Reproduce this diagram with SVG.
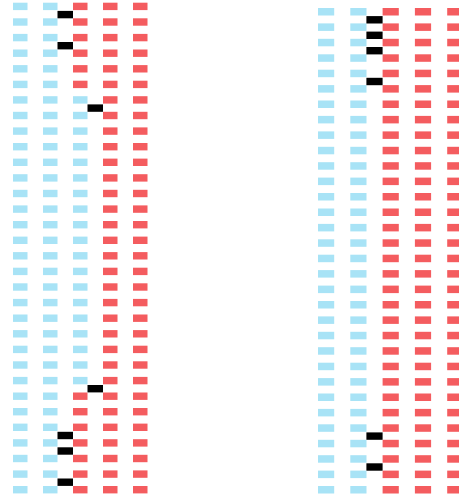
<svg xmlns="http://www.w3.org/2000/svg" xmlns:xlink="http://www.w3.org/1999/xlink" width="459" height="497" viewBox="0 0 459 497">
<style>
.b{fill:#a8e3f6}
.r{fill:#f45c5f}
.k{fill:#000}
</style>
<defs>
<g id="colL">
<rect y="2.7" width="14.5" height="7.4"/><rect y="18.3" width="14.5" height="7.4"/><rect y="33.9" width="14.5" height="7.4"/><rect y="49.5" width="14.5" height="7.4"/>
<rect y="65.1" width="14.5" height="7.4"/><rect y="80.7" width="14.5" height="7.4"/><rect y="96.2" width="14.5" height="7.4"/><rect y="111.8" width="14.5" height="7.4"/>
<rect y="127.4" width="14.5" height="7.4"/><rect y="143" width="14.5" height="7.4"/><rect y="158.6" width="14.5" height="7.4"/><rect y="174.2" width="14.5" height="7.4"/>
<rect y="189.8" width="14.5" height="7.4"/><rect y="205.4" width="14.5" height="7.4"/><rect y="221" width="14.5" height="7.4"/><rect y="236.6" width="14.5" height="7.4"/>
<rect y="252.1" width="14.5" height="7.4"/><rect y="267.7" width="14.5" height="7.4"/><rect y="283.3" width="14.5" height="7.4"/><rect y="298.9" width="14.5" height="7.4"/>
<rect y="314.5" width="14.5" height="7.4"/><rect y="330.1" width="14.5" height="7.4"/><rect y="345.7" width="14.5" height="7.4"/><rect y="361.3" width="14.5" height="7.4"/>
<rect y="376.9" width="14.5" height="7.4"/><rect y="392.5" width="14.5" height="7.4"/><rect y="408" width="14.5" height="7.4"/><rect y="423.6" width="14.5" height="7.4"/>
<rect y="439.2" width="14.5" height="7.4"/><rect y="454.8" width="14.5" height="7.4"/><rect y="470.4" width="14.5" height="7.4"/><rect y="486" width="14.5" height="7.4"/>
</g>
<g id="colR">
<rect y="8" width="16.2" height="7.5"/><rect y="23.4" width="16.2" height="7.5"/><rect y="38.8" width="16.2" height="7.5"/><rect y="54.3" width="16.2" height="7.5"/>
<rect y="69.7" width="16.2" height="7.5"/><rect y="85.1" width="16.2" height="7.5"/><rect y="100.5" width="16.2" height="7.5"/><rect y="115.9" width="16.2" height="7.5"/>
<rect y="131.4" width="16.2" height="7.5"/><rect y="146.8" width="16.2" height="7.5"/><rect y="162.2" width="16.2" height="7.5"/><rect y="177.6" width="16.2" height="7.5"/>
<rect y="193" width="16.2" height="7.5"/><rect y="208.5" width="16.2" height="7.5"/><rect y="223.9" width="16.2" height="7.5"/><rect y="239.3" width="16.2" height="7.5"/>
<rect y="254.7" width="16.2" height="7.5"/><rect y="270.1" width="16.2" height="7.5"/><rect y="285.6" width="16.2" height="7.5"/><rect y="301" width="16.2" height="7.5"/>
<rect y="316.4" width="16.2" height="7.5"/><rect y="331.8" width="16.2" height="7.5"/><rect y="347.2" width="16.2" height="7.5"/><rect y="362.7" width="16.2" height="7.5"/>
<rect y="378.1" width="16.2" height="7.5"/><rect y="393.5" width="16.2" height="7.5"/><rect y="408.9" width="16.2" height="7.5"/><rect y="424.3" width="16.2" height="7.5"/>
<rect y="439.8" width="16.2" height="7.5"/><rect y="455.2" width="16.2" height="7.5"/><rect y="470.6" width="16.2" height="7.5"/><rect y="486" width="16.2" height="7.5"/>
</g>
</defs>
<rect width="459" height="497" fill="#fff"/>
<g id="left-panel">
<use xlink:href="#colL" x="13" class="b"/>
<use xlink:href="#colL" x="43" class="b"/>
<g id="left-col3">
<rect class="r" x="73" y="2.7" width="14.5" height="7.4"/><rect class="r" x="73" y="18.3" width="14.5" height="7.4"/><rect class="r" x="73" y="33.9" width="14.5" height="7.4"/><rect class="r" x="73" y="49.5" width="14.5" height="7.4"/>
<rect class="r" x="73" y="65.1" width="14.5" height="7.4"/><rect class="r" x="73" y="80.7" width="14.5" height="7.4"/><rect class="b" x="73" y="96.2" width="14.5" height="7.4"/><rect class="b" x="73" y="111.8" width="14.5" height="7.4"/>
<rect class="b" x="73" y="127.4" width="14.5" height="7.4"/><rect class="b" x="73" y="143" width="14.5" height="7.4"/><rect class="b" x="73" y="158.6" width="14.5" height="7.4"/><rect class="b" x="73" y="174.2" width="14.5" height="7.4"/>
<rect class="b" x="73" y="189.8" width="14.5" height="7.4"/><rect class="b" x="73" y="205.4" width="14.5" height="7.4"/><rect class="b" x="73" y="221" width="14.5" height="7.4"/><rect class="b" x="73" y="236.6" width="14.5" height="7.4"/>
<rect class="b" x="73" y="252.1" width="14.5" height="7.4"/><rect class="b" x="73" y="267.7" width="14.5" height="7.4"/><rect class="b" x="73" y="283.3" width="14.5" height="7.4"/><rect class="b" x="73" y="298.9" width="14.5" height="7.4"/>
<rect class="b" x="73" y="314.5" width="14.5" height="7.4"/><rect class="b" x="73" y="330.1" width="14.5" height="7.4"/><rect class="b" x="73" y="345.7" width="14.5" height="7.4"/><rect class="b" x="73" y="361.3" width="14.5" height="7.4"/>
<rect class="b" x="73" y="376.9" width="14.5" height="7.4"/><rect class="r" x="73" y="392.5" width="14.5" height="7.4"/><rect class="r" x="73" y="408" width="14.5" height="7.4"/><rect class="r" x="73" y="423.6" width="14.5" height="7.4"/>
<rect class="r" x="73" y="439.2" width="14.5" height="7.4"/><rect class="r" x="73" y="454.8" width="14.5" height="7.4"/><rect class="r" x="73" y="470.4" width="14.5" height="7.4"/><rect class="r" x="73" y="486" width="14.5" height="7.4"/>
</g>
<use xlink:href="#colL" x="103" class="r"/>
<use xlink:href="#colL" x="133" class="r"/>
<g id="left-markers">
<rect class="k" x="57.5" y="10.9" width="15.5" height="7.4"/>
<rect class="k" x="57.5" y="42" width="15.5" height="7.4"/>
<rect class="k" x="87.5" y="104.4" width="15.5" height="7.4"/>
<rect class="k" x="87.5" y="385" width="15.5" height="7.4"/>
<rect class="k" x="57.5" y="431.8" width="15.5" height="7.4"/>
<rect class="k" x="57.5" y="447.3" width="15.5" height="7.4"/>
<rect class="k" x="57.5" y="478.5" width="15.5" height="7.4"/>
</g>
</g>
<g id="right-panel">
<use xlink:href="#colR" x="318" class="b"/>
<use xlink:href="#colR" x="350.3" class="b"/>
<use xlink:href="#colR" x="382.6" class="r"/>
<use xlink:href="#colR" x="414.9" class="r"/>
<use xlink:href="#colR" x="447.2" class="r"/>
<g id="right-markers">
<rect class="k" x="366.4" y="16.1" width="16.2" height="7.4"/>
<rect class="k" x="366.4" y="31.6" width="16.2" height="7.4"/>
<rect class="k" x="366.4" y="47" width="16.2" height="7.4"/>
<rect class="k" x="366.4" y="77.8" width="16.2" height="7.4"/>
<rect class="k" x="366.4" y="432.4" width="16.2" height="7.4"/>
<rect class="k" x="366.4" y="463.3" width="16.2" height="7.4"/>
</g>
</g>
</svg>
